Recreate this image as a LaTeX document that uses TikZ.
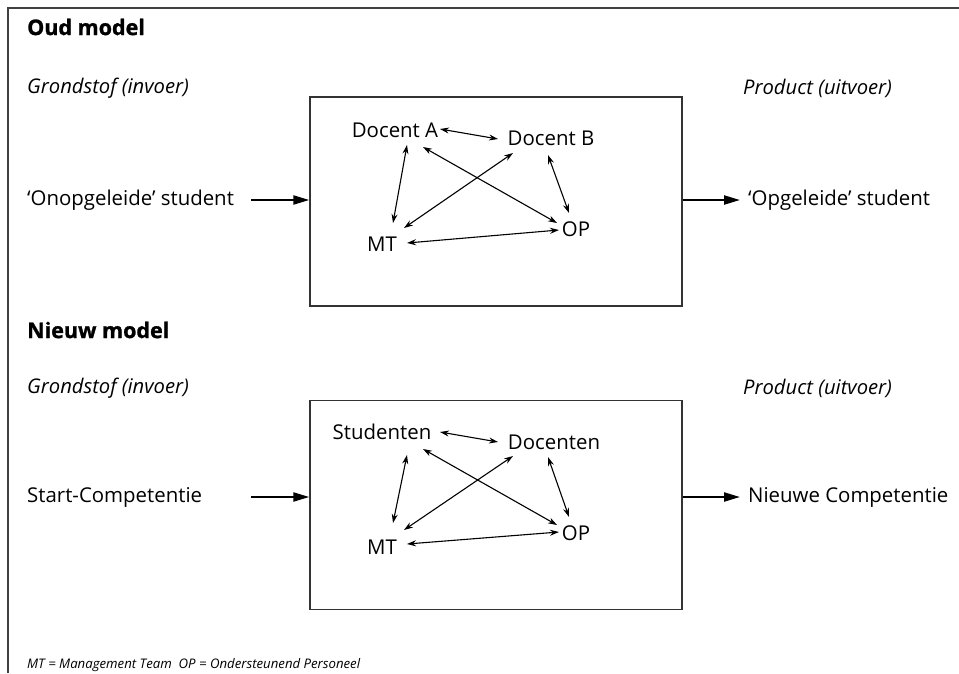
\documentclass[tikz,border=0pt]{standalone}
\usepackage{fontspec}
\setmainfont{Open Sans}
\usetikzlibrary{arrows.meta}
\begin{document}
\begin{tikzpicture}[x=1pt,y=-1pt,
  txt/.style={inner sep=0pt,font=\fontsize{20.4}{24}\selectfont},
  itxt/.style={inner sep=0pt,font=\fontsize{20.2}{24}\selectfont\itshape},
  head/.style={inner sep=0pt,font=\fontsize{21.5}{25}\selectfont\bfseries\addfontfeatures{FakeBold=1.2}},
  foot/.style={inner sep=0pt,font=\fontsize{13.2}{16}\selectfont\itshape},
  procbox/.style={draw=black!80,line width=1.4pt,minimum width=372pt,minimum height=209pt,inner sep=0pt},
  flow/.style={line width=2.2pt,-{Triangle[length=16pt,width=9pt]}},
  link/.style={line width=1.1pt,{Stealth[length=9pt,width=6pt]}-{Stealth[length=9pt,width=6pt]}},
  frameline/.style={draw=black!75,line width=1.8pt}]
\useasboundingbox (0,0) rectangle (959,673);
\fill[white] (0,0) rectangle (959,673);
\coordinate (fc) at (8,8);
\coordinate (fr) at (959,8);
\coordinate (fb) at (8,673);
\draw[frameline] (fb) -- (fc) -- (fr);

% ---------- Oud model ----------
\node[head,anchor=west] (oud) at (27,27) {Oud model};
\node[itxt,anchor=west] (gr1) at (27,88) {Grondstof (invoer)};
\node[itxt,anchor=west] (pr1) at (743,88) {Product (uitvoer)};
\node[procbox] (box1) at (496,201.5) {};
\node[txt,anchor=west] (in1) at (27,200) {‘Onopgeleide’ student};
\node[txt,anchor=west] (out1) at (748,200) {‘Opgeleide’ student};
\coordinate (in1end) at (251,200);
\draw[flow] (in1end) -- (box1.west |- in1end);
\draw[flow] (box1.east |- out1.west) -- ([xshift=-8pt]out1.west);

\node[txt] (da) at (395,130) {Docent A};
\node[txt] (db) at (551,138) {Docent B};
\node[txt] (mt) at (382,244) {MT};
\node[txt] (op) at (576,229) {OP};
\draw[link] ([shift={(45,-1)}]da.center) -- ([shift={(-53,1)}]db.center);
\draw[link] ([shift={(12,15)}]da.center) -- ([shift={(11,-21)}]mt.center);
\draw[link] ([shift={(28,17)}]da.center) -- ([shift={(-19,-6)}]op.center);
\draw[link] ([shift={(-38,15)}]db.center) -- ([shift={(22,-16)}]mt.center);
\draw[link] ([shift={(-3,17)}]db.center) -- ([shift={(-7,-16)}]op.center);
\draw[link] ([shift={(25,-1)}]mt.center) -- ([shift={(-17,1)}]op.center);

% ---------- Nieuw model ----------
\node[head,anchor=west] (nieuw) at (27,330) {Nieuw model};
\node[itxt,anchor=west] (gr2) at (27,388) {Grondstof (invoer)};
\node[itxt,anchor=west] (pr2) at (743,388) {Product (uitvoer)};
\node[procbox] (box2) at (496,505) {};
\node[txt,anchor=west] (in2) at (27,497) {Start-Competentie};
\node[txt,anchor=west] (out2) at (748,497) {Nieuwe Competentie};
\coordinate (in2end) at (251,497);
\draw[flow] (in2end) -- (box2.west |- in2end);
\draw[flow] (box2.east |- out2.west) -- ([xshift=-8pt]out2.west);

\node[txt] (st) at (382,432) {Studenten};
\node[txt] (dc) at (554,442) {Docenten};
\node[txt] (mt2) at (382,547) {MT};
\node[txt] (op2) at (576,533) {OP};
\draw[link] ([shift={(58,0)}]st.center) -- ([shift={(-56,0)}]dc.center);
\draw[link] ([shift={(25,23)}]st.center) -- ([shift={(11,-24)}]mt2.center);
\draw[link] ([shift={(41,17)}]st.center) -- ([shift={(-19,-8)}]op2.center);
\draw[link] ([shift={(-41,14)}]dc.center) -- ([shift={(22,-17)}]mt2.center);
\draw[link] ([shift={(-6,15)}]dc.center) -- ([shift={(-7,-16)}]op2.center);
\draw[link] ([shift={(25,-3)}]mt2.center) -- ([shift={(-17,-1)}]op2.center);

\node[foot,anchor=west] (legend) at (27,665) {MT = Management Team\ \ OP = Ondersteunend Personeel};
\end{tikzpicture}
\end{document}
